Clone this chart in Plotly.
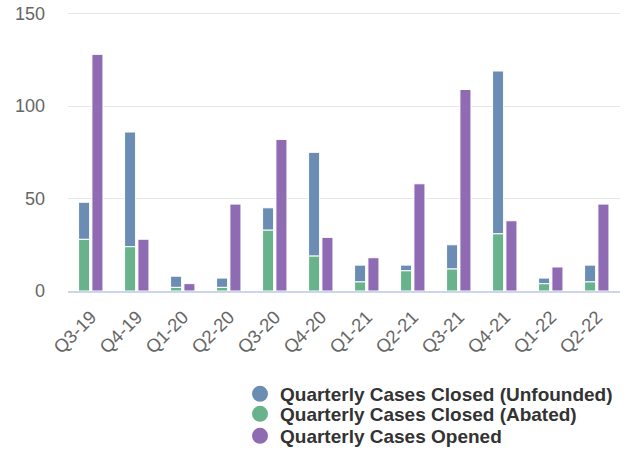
import plotly.graph_objects as go

quarters = ["Q3-19", "Q4-19", "Q1-20", "Q2-20", "Q3-20", "Q4-20",
            "Q1-21", "Q2-21", "Q3-21", "Q4-21", "Q1-22", "Q2-22"]
closed_abated = [28, 24, 2, 2, 33, 19, 5, 11, 12, 31, 4, 5]
closed_unfounded = [20, 62, 6, 5, 12, 56, 9, 3, 13, 88, 3, 9]
cases_opened = [128, 28, 4, 47, 82, 29, 18, 58, 109, 38, 13, 47]
y_ticks = [0, 50, 100, 150]

names = ["Quarterly Cases Closed (Unfounded)",
         "Quarterly Cases Closed (Abated)",
         "Quarterly Cases Opened"]
c_blue = "#6b8db3"
c_green = "#68b38b"
c_purple = "#8f6bb4"

W, H = 630, 450
y_max = 152
plot_bottom = 291
plot_h = (plot_bottom - 14) * y_max / 150

fig = go.Figure()
line = dict(color="white", width=1)
fig.add_bar(x=quarters, y=closed_abated, marker=dict(color=c_green, line=line),
            width=0.24, offset=-0.27, showlegend=False, name=names[1])
fig.add_bar(x=quarters, y=closed_unfounded, base=closed_abated,
            marker=dict(color=c_blue, line=line),
            width=0.24, offset=-0.27, showlegend=False, name=names[0])
fig.add_bar(x=quarters, y=cases_opened, marker=dict(color=c_purple, line=line),
            width=0.24, offset=0.02, showlegend=False, name=names[2])

legend_ids = ["legend", "legend2", "legend3"]
row_centers = [394, 414, 436]
lfont = dict(size=19, color="#333333", family="Liberation Sans, Arial, sans-serif", weight="bold")
legends = {}
for nm, col, lid, yc in zip(names, [c_blue, c_green, c_purple], legend_ids, row_centers):
    fig.add_scatter(x=[None], y=[None], mode="markers", name=nm, legend=lid,
                    marker=dict(color=col, size=16, symbol="circle"))
    legends[lid] = dict(x=240 / W, y=1 - yc / H, xref="container", yref="container",
                        xanchor="left", yanchor="middle", font=lfont,
                        itemsizing="trace", bgcolor="rgba(0,0,0,0)")

fig.update_layout(
    width=W, height=H,
    barmode="overlay",
    margin=dict(l=68, r=10, t=plot_bottom - plot_h, b=H - plot_bottom, autoexpand=False),
    plot_bgcolor="white", paper_bgcolor="white",
    font=dict(family="Liberation Sans, Arial, sans-serif", color="#666666"),
    **legends,
)
fig.update_xaxes(type="category", tickangle=-45, tickfont=dict(size=18.5, color="#666666"),
                 showline=True, linecolor="#ccd6eb", linewidth=2, showgrid=False,
                 ticks="", range=[-0.5, 11.5], automargin=False, ticklabelstandoff=6)
fig.update_yaxes(range=[0, y_max], tickvals=y_ticks, showgrid=True,
                 gridcolor="#e6e6e6", gridwidth=1, zeroline=False, showline=False,
                 tickfont=dict(size=18, color="#666666"), ticklabelstandoff=22,
                 automargin=False)

fig.write_html("out.html", config={"displayModeBar": False},
               post_script="document.body.style.margin='0';document.body.style.overflow='hidden';")
